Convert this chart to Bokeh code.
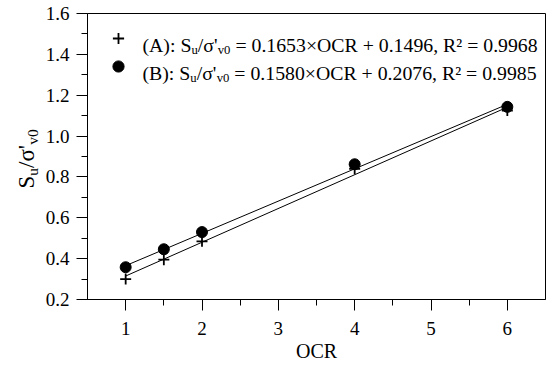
import math
from bokeh.plotting import figure
from bokeh.layouts import row
from bokeh.models import Range1d, FixedTicker, Label, Legend, LegendItem, CustomJSTickFormatter
from bokeh.embed import file_html
from bokeh.resources import INLINE

# ---------------- data ----------------
ocr = [1.0, 1.5, 2.0, 4.0, 6.0]
su_a = [0.300, 0.395, 0.485, 0.840, 1.125]
su_b = [0.358, 0.446, 0.530, 0.862, 1.143]
fit_slope = [0.1653, 0.1580]
fit_intercept = [0.1496, 0.2076]
fit_r2 = [0.9968, 0.9985]
series_names = ["(A)", "(B)"]
x_ticks = [1, 2, 3, 4, 5, 6]
x_minor = [1.5, 2.5, 3.5, 4.5, 5.5]
y_ticks = [0.2, 0.4, 0.6, 0.8, 1.0, 1.2, 1.4, 1.6]
y_minor = [0.3, 0.5, 0.7, 0.9, 1.1, 1.3, 1.5]
x_title = "OCR"

FONT = "Liberation Serif"
LEFT_W = 40

p = figure(width=549 - LEFT_W, height=365, x_range=Range1d(0.5, 6.5), y_range=Range1d(0.2, 1.6),
           output_backend="svg", toolbar_location=None,
           min_border_left=87 - LEFT_W, min_border_right=4, min_border_top=13, min_border_bottom=66)
p.grid.visible = False
p.outline_line_color = "black"
p.outline_line_width = 1
p.background_fill_color = "white"
p.border_fill_color = "white"

for ax in (p.xaxis[0], p.yaxis[0]):
    ax.axis_line_color = "black"
    ax.major_tick_line_color = "black"
    ax.minor_tick_line_color = "black"
    ax.major_tick_in = 0
    ax.minor_tick_in = 0
    ax.major_tick_out = 11
    ax.minor_tick_out = 6
    ax.major_label_text_font = FONT
    ax.major_label_text_font_size = "19px"
    ax.major_label_text_color = "black"
    ax.axis_label_text_font = FONT
    ax.axis_label_text_font_style = "normal"
    ax.axis_label_text_color = "black"

p.xaxis.ticker = FixedTicker(ticks=x_ticks, minor_ticks=x_minor)
p.yaxis.ticker = FixedTicker(ticks=y_ticks, minor_ticks=y_minor)
p.yaxis.formatter = CustomJSTickFormatter(code="return tick.toFixed(1);")
p.xaxis.formatter = CustomJSTickFormatter(code="return tick.toFixed(0);")
p.xaxis.major_label_standoff = 11
p.yaxis.major_label_standoff = 7
p.xaxis.axis_label = x_title
p.xaxis.axis_label_text_font_size = "20px"
p.xaxis.axis_label_standoff = 2

# fitted lines
xs_fit = [ocr[0], ocr[-1]]
for m, c in zip(fit_slope, fit_intercept):
    p.line(xs_fit, [m * x + c for x in xs_fit], line_color="black", line_width=1)

rA = p.scatter(ocr, su_a, marker="cross", size=11, line_color="black", line_width=1.8)
rB = p.scatter(ocr, su_b, marker="circle", size=11, fill_color="black", line_color="black")

legend = Legend(items=[LegendItem(label="", renderers=[rA]), LegendItem(label="", renderers=[rB])],
                location=(17, 219), glyph_width=28, glyph_height=28, spacing=0, padding=0,
                margin=0, border_line_color=None, background_fill_alpha=0, label_standoff=0,
                label_width=0, label_height=0)
p.add_layout(legend)

# Times metrics (per em)
WID = {" ": 0.25, "(": 0.333, ")": 0.333, "A": 0.722, "B": 0.667, ":": 0.278, "S": 0.556,
       "u": 0.5, "/": 0.278, "σ": 0.55, "'": 0.18, "v": 0.5, "=": 0.564, ".": 0.25,
       "×": 0.564, "O": 0.722, "C": 0.667, "R": 0.667, "+": 0.564, ",": 0.25, "²": 0.3}
def tw(s, size):
    return sum(WID.get(ch, 0.5) for ch in s) * size

def rich(fig, pieces, x0, y0, main, sub, angle=0.0):
    """pieces: list of (text, kind); positions in frame screen units"""
    pos = 0.0
    for text, kind in pieces:
        size = main if kind == "main" else sub
        lead = len(text) - len(text.lstrip(" "))
        pos += tw(text[:lead], size)
        t = text.strip(" ")
        shift = 0.28 * main if kind == "sub" else 0.0
        if angle == 0.0:
            x, y = x0 + pos, y0 - shift
        else:
            x, y = x0 + shift, y0 + pos
        fig.add_layout(Label(x=x, y=y, x_units="screen", y_units="screen", text=t,
                             text_font=FONT, text_font_size=f"{size}px", text_color="black",
                             text_align="left", text_baseline="alphabetic", angle=angle))
        pos += tw(text[lead:], size)

LF, LS = 19.8, 12.7
row_y = [255, 227]
for name, m, c, r2, yy in zip(series_names, fit_slope, fit_intercept, fit_r2, row_y):
    rich(p, [(f"{name}: S", "main"), ("u", "sub"), ("/σ'", "main"), ("v0", "sub"),
             (f" = {m:.4f}×OCR + {c:.4f}, R² = {r2:.4f}", "main")], 55, yy, LF, LS)

# y axis title in a narrow side figure (its frame is aligned with the main frame)
q = figure(width=LEFT_W, height=365, x_range=Range1d(0, 1), y_range=Range1d(0, 1),
           output_backend="svg", toolbar_location=None, x_axis_type=None, y_axis_type=None,
           min_border=0, min_border_left=0, min_border_right=0, min_border_top=0,
           min_border_bottom=0)
q.grid.visible = False
q.outline_line_color = None
q.background_fill_color = "white"
q.border_fill_color = "white"
rich(q, [("S", "main"), ("u", "sub"), ("/σ'", "main"), ("v0", "sub")], 26, 111, 23, 15.5,
     angle=math.pi / 2)

layout = row(q, p, spacing=0)
open("out.html", "w").write(file_html(layout, INLINE))
